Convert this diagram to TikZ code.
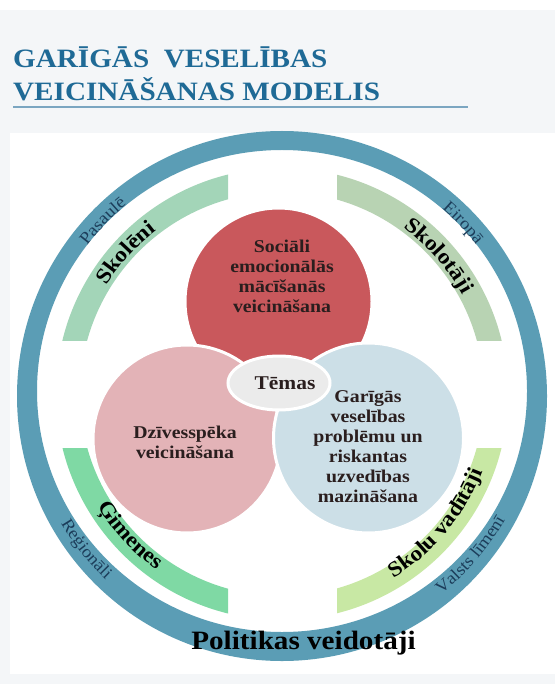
\documentclass[tikz,border=0pt]{standalone}
\usepackage{fontspec}
\setmainfont{Liberation Serif}[FakeStretch=1.1]
\usetikzlibrary{decorations.text}
\definecolor{bgGray}{HTML}{F4F6F8}
\definecolor{titleBlue}{HTML}{1F6A96}
\definecolor{ruleBlue}{HTML}{7BA6C1}
\definecolor{ringBlue}{HTML}{5B9DB5}
\definecolor{gTL}{HTML}{A3D5B8}
\definecolor{gTR}{HTML}{B8D3B3}
\definecolor{gBL}{HTML}{7FD9A4}
\definecolor{gBR}{HTML}{C8E8A4}
\definecolor{cRed}{HTML}{C9585C}
\definecolor{cPink}{HTML}{E3B3B7}
\definecolor{cBlue}{HTML}{CCDFE7}
\definecolor{cGray}{HTML}{EBEBEB}
\definecolor{textDark}{HTML}{2A1E1E}
\definecolor{navy}{HTML}{1C3D5A}
\tikzset{
  bubble/.style={draw=white, line width=3pt},
  bubbletext/.style={align=center, inner sep=0pt, text=textDark,
    font=\bfseries\fontsize{18}{20}\selectfont},
  titletext/.style={anchor=base west, inner sep=0pt, text=titleBlue,
    font=\bfseries\fontsize{26.5}{26.5}\selectfont},
  arcbold/.style={decorate, decoration={text along path, text align=center,
    text color=black, text={|\bfseries\fontsize{21.5}{21.5}\selectfont|#1}}},
  arcthin/.style={decorate, decoration={text along path, text align=center,
    text color=navy, text={|\fontsize{17}{17}\selectfont|#1}}}
}
\begin{document}
\begin{tikzpicture}[x=1pt,y=1pt]
\useasboundingbox (0,0) rectangle (555,-684);
% backgrounds
\fill[white] (0,0) rectangle (555,-684);
\fill[bgGray] (0,-10) rectangle (555,-684);
\fill[white] (10,-133) rectangle (555,-674);
% title
\node[titletext] (t1) at (13,-68) {GARĪGĀS~~VESELĪBAS};
\node[titletext] (t2) at (13,-101) {VEICINĀŠANAS MODELIS};
\coordinate (u1) at (13,-107);
\coordinate (u2) at (468,-107);
\draw[ruleBlue, line width=2pt] (u1) -- (u2);
% centre
\coordinate (C) at (282,-394);
% outer blue ring
\fill[ringBlue, even odd rule] (282,-396) circle[radius=265]
  (282,-391) ellipse[x radius=245, y radius=241];
% green arcs
\begin{scope}
  \clip (0,-340) rectangle (228,0);
  \fill[gTL, even odd rule] (C) circle[radius=226] (C) circle[radius=202];
\end{scope}
\begin{scope}
  \clip (337,-340) rectangle (555,0);
  \fill[gTR, even odd rule] (C) circle[radius=226] (C) circle[radius=202];
\end{scope}
\begin{scope}
  \clip (0,-448) rectangle (228,-684);
  \fill[gBL, even odd rule] (C) circle[radius=226] (C) circle[radius=202];
\end{scope}
\begin{scope}
  \clip (337,-448) rectangle (555,-684);
  \fill[gBR, even odd rule] (C) circle[radius=226] (C) circle[radius=202];
\end{scope}
% bubbles
\fill[cRed, bubble] (278.5,-301.5) circle[radius=93.5];
\fill[cPink, bubble] (187,-439) circle[radius=94];
\fill[cBlue, bubble] (368.5,-438) circle[radius=95];
\fill[cGray, bubble] (279,-383) ellipse[x radius=51, y radius=27];
% bubble texts
\node[bubbletext] (sel) at (282,-276) {Sociāli\\emocionālās\\mācīšanās\\veicināšana};
\node[bubbletext] (dz) at (185,-442) {Dzīvesspēka\\veicināšana};
\node[bubbletext] (gv) at (368,-447) {Garīgās\\veselības\\problēmu un\\riskantas\\uzvedības\\mazināšana};
\node[inner sep=0pt, anchor=base, text=textDark, font=\bfseries\fontsize{19.5}{19.5}\selectfont] (tem) at (285,-389) {Tēmas};
% bottom label
\node[inner sep=0pt, anchor=base, text=black, font=\bfseries\fontsize{26.5}{26.5}\selectfont] (pol) at (303.5,-649) {Politikas veidotāji};
% arc labels (green)
\path[arcbold={Skolēni}] ([shift={(177.9:206)}]C) arc[start angle=177.9, end angle=97.9, radius=206];
\path[arcbold={Skolotāji}] ([shift={(81.4:206)}]C) arc[start angle=81.4, end angle=1.4, radius=206];
\path[arcbold={Ģimenes}] ([shift={(182.9:216)}]C) arc[start angle=182.9, end angle=262.9, radius=216];
\path[arcbold={Skolu vadītāji}] ([shift={(275:215)}]C) arc[start angle=275, end angle=365, radius=215];
% arc labels (blue ring)
\path[arcthin={Pasaulē}] ([shift={(176:245)}]C) arc[start angle=176, end angle=96, radius=245];
\path[arcthin={Eiropā}] ([shift={(83.4:245)}]C) arc[start angle=83.4, end angle=3.4, radius=245];
\path[arcthin={Reģionāli}] ([shift={(178.4:256)}]C) arc[start angle=178.4, end angle=258.4, radius=256];
\path[arcthin={Valsts līmenī}] ([shift={(279.5:256)}]C) arc[start angle=279.5, end angle=359.5, radius=256];
\end{tikzpicture}
\end{document}
